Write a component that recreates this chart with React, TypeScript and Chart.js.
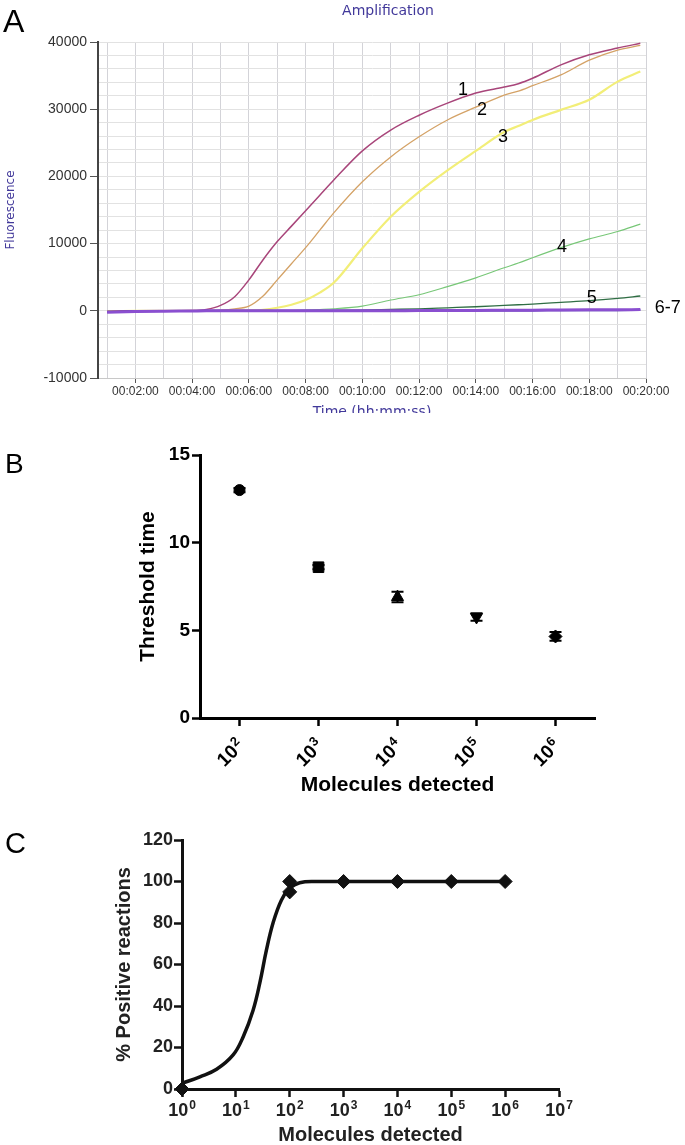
import React, { useEffect, useRef } from 'react';
import { Chart, registerables } from 'chart.js';

Chart.register(...registerables);

const SANS = "'Liberation Sans', Arial, Helvetica, sans-serif";
const DEJAVU = "'DejaVu Sans', Verdana, sans-serif";

// ---------------- Panel A : amplification curves ----------------
const A_TIME_MIN = [1, 2, 3, 4, 4.5, 5, 5.5, 6, 6.5, 7, 7.5, 8, 8.5, 9, 10, 11, 12, 13, 14, 15, 15.5, 16, 17, 18, 19, 19.8];
const A_CURVE_1 = [-100, 0, 0, 30, 200, 800, 2100, 4600, 7600, 10300, 12600, 14900, 17200, 19500, 23800, 26900, 29100, 30900, 32400, 33300, 33800, 34600, 36600, 38100, 39100, 39800];
const A_CURVE_2 = [-100, 0, 0, 0, 20, 100, 300, 700, 2200, 4600, 7000, 9400, 12000, 14600, 19200, 22900, 25900, 28400, 30300, 32100, 32700, 33500, 35100, 37300, 38800, 39500];
const A_CURVE_3 = [-100, 0, 0, 0, 0, 0, 30, 60, 150, 450, 900, 1600, 2700, 4200, 9300, 14000, 17700, 20900, 23800, 26600, 27500, 28400, 29900, 31400, 34100, 35600];
const A_CURVE_4 = [-100, 0, 0, 0, 0, 0, 0, 0, 0, 0, 50, 120, 200, 300, 700, 1600, 2400, 3600, 4900, 6400, 7100, 7900, 9400, 10700, 11800, 12900];
const A_CURVE_5 = [-100, 0, 0, 0, 0, 0, 0, 0, 0, 0, 0, 0, 20, 50, 100, 200, 300, 450, 600, 800, 900, 1000, 1250, 1500, 1850, 2200];
const A_CURVE_6 = [-200, -100, -50, -20, 0, 0, 0, 0, 0, 0, 0, 0, 0, 0, 0, 20, 30, 50, 60, 80, 90, 100, 120, 140, 160, 180];
const A_CURVE_7 = [-150, -80, -40, -20, -10, 0, 0, 0, 0, 0, 0, 0, 0, 0, 0, 0, 10, 20, 30, 40, 50, 60, 70, 80, 100, 120];
const A_SERIES = [A_CURVE_1, A_CURVE_2, A_CURVE_3, A_CURVE_4, A_CURVE_5, A_CURVE_6, A_CURVE_7];
const A_COLORS = ['#a8457a', '#d4a266', '#f2ee78', '#77c777', '#2f6e44', '#8a4fd0', '#3b2f9f'];
const A_WIDTHS = [1.5, 1.3, 2.2, 1.1, 1.3, 3, 2];
const A_X_TICKS = [1, 2, 3, 4, 5, 6, 7, 8, 9, 10, 11, 12, 13, 14, 15, 16, 17, 18, 19, 20];
const A_Y_TICKS = [-10000, -8000, -6000, -4000, -2000, 0, 2000, 4000, 6000, 8000, 10000, 12000, 14000, 16000, 18000, 20000, 22000, 24000, 26000, 28000, 30000, 32000, 34000, 36000, 38000, 40000];
const A_LABELS = ['1', '2', '3', '4', '5', '6-7'];
const A_LABEL_T = [13.55, 14.22, 14.96, 17.04, 18.09, 20.77];
const A_LABEL_F = [32900, 29900, 25900, 9500, 1950, 450];

// ---------------- Panel B : threshold time ----------------
const B_MOLECULES = [1e2, 1e3, 1e4, 1e5, 1e6];
const B_THRESHOLD = [13.0, 8.6, 6.9, 5.76, 4.65];
const B_ERROR = [0.12, 0.12, 0.3, 0.22, 0.25];
const B_SYMBOLS = ['circle', 'rect', 'triangle', 'triangle', 'rectRot'];
const B_ROTATION = [0, 0, 0, 180, 0];
const B_RADIUS = [5.5, 7.5, 7, 7, 6.5];
const B_X_TICKS = [1e2, 1e3, 1e4, 1e5, 1e6];
const B_Y_TICKS = [0, 5, 10, 15];

// ---------------- Panel C : % positive reactions ----------------
const C_POINT_X = [1, 100, 100, 1e3, 1e4, 1e5, 1e6];
const C_POINT_Y = [0, 100, 95, 100, 100, 100, 100];
const C_FIT_X = [1, 2.15, 4.39, 8.9, 13.7, 20.9, 27.8, 37, 49, 70, 100, 153, 309, 1e3, 1e4, 1e5, 1e6];
const C_FIT_Y = [2.7, 5.9, 9.5, 16.4, 25.2, 38, 51, 67, 80, 91, 96.7, 99.4, 100, 100, 100, 100, 100];
const C_X_TICKS = [1, 10, 100, 1e3, 1e4, 1e5, 1e6, 1e7];
const C_Y_TICKS = [0, 20, 40, 60, 80, 100, 120];

const exponentOf = (v: number) => String(Math.round(Math.log10(v)));

function panelLetter(letter: string, x: number, y: number, size: number) {
  return {
    id: 'letter' + letter,
    afterDraw(chart: any) {
      const ctx = chart.ctx;
      ctx.save();
      ctx.fillStyle = '#000';
      ctx.font = `${size}px ${SANS}`;
      ctx.textAlign = 'left';
      ctx.textBaseline = 'alphabetic';
      ctx.fillText(letter, x, y);
      ctx.restore();
    },
  };
}

// Draws "10" with a raised exponent under each tick of the x scale.
function powerLabels(id: string, ticks: number[], opts: { base: number; exp: number; color: string; rotate: boolean; gap: number; dx: number }) {
  return {
    id,
    afterDraw(chart: any) {
      const ctx = chart.ctx;
      const xs = chart.scales.x;
      const bottom = chart.chartArea.bottom;
      ctx.save();
      ctx.fillStyle = opts.color;
      ticks.forEach((v) => {
        const px = xs.getPixelForValue(v);
        const e = exponentOf(v);
        const baseFont = `bold ${opts.base}px ${SANS}`;
        const expFont = `bold ${opts.exp}px ${SANS}`;
        ctx.font = expFont;
        const ew = ctx.measureText(e).width;
        ctx.font = baseFont;
        const bw = ctx.measureText('10').width;
        ctx.textBaseline = 'alphabetic';
        if (opts.rotate) {
          ctx.save();
          ctx.translate(px + opts.dx, bottom + opts.gap);
          ctx.rotate(-Math.PI / 4);
          ctx.textAlign = 'right';
          ctx.font = expFont;
          ctx.fillText(e, 0, 11);
          ctx.font = baseFont;
          ctx.fillText('10', -ew - 1, 18);
          ctx.restore();
        } else {
          const total = bw + ew + 1;
          const x0 = px - total / 2 + opts.dx;
          ctx.textAlign = 'left';
          ctx.font = baseFont;
          ctx.fillText('10', x0, bottom + opts.gap);
          ctx.font = expFont;
          ctx.fillText(e, x0 + bw + 1, bottom + opts.gap - 7);
        }
      });
      ctx.restore();
    },
  };
}

function buildA(canvas: HTMLCanvasElement) {
  const textPlugin = {
    id: 'textA',
    afterDraw(chart: any) {
      const ctx = chart.ctx;
      const { x, y } = chart.scales;
      const area = chart.chartArea;
      ctx.save();
      ctx.fillStyle = '#41389a';
      ctx.font = `14px ${DEJAVU}`;
      ctx.textAlign = 'center';
      ctx.textBaseline = 'alphabetic';
      ctx.fillText('Amplification', 388, 15);
      ctx.fillText('Time (hh:mm:ss)', (area.left + area.right) / 2, 416);
      ctx.fillStyle = '#000';
      ctx.font = `18px ${SANS}`;
      ctx.textBaseline = 'middle';
      A_LABELS.forEach((lab, i) => {
        ctx.fillText(lab, x.getPixelForValue(A_LABEL_T[i]), y.getPixelForValue(A_LABEL_F[i]));
      });
      ctx.restore();
    },
  };
  const datasets = A_SERIES.map((vals, i) => ({
    data: A_TIME_MIN.map((t, j) => ({ x: t, y: vals[j] })),
    borderColor: A_COLORS[i],
    backgroundColor: A_COLORS[i],
    borderWidth: A_WIDTHS[i],
    pointRadius: 0,
    fill: false,
    cubicInterpolationMode: 'monotone',
    order: i >= 5 ? 0 : i + 1,
  }));
  return new Chart(canvas, {
    type: 'line',
    data: { datasets } as any,
    options: {
      animation: false,
      responsive: false,
      devicePixelRatio: 1,
      layout: { padding: { left: 0, top: 42, right: 39, bottom: 0 } },
      plugins: { legend: { display: false }, tooltip: { enabled: false } },
      scales: {
        x: {
          type: 'linear',
          min: 0.68,
          max: 20,
          afterBuildTicks: (s: any) => { s.ticks = A_X_TICKS.map((v) => ({ value: v })); },
          afterFit: (s: any) => { s.height = 35; },
          ticks: {
            autoSkip: false,
            minRotation: 0,
            maxRotation: 0,
            padding: 1,
            color: '#333',
            font: { family: SANS, size: 12 },
            callback: (v: any) => (v % 2 === 0 ? `00:${String(v).padStart(2, '0')}:00` : ''),
          },
          grid: {
            color: '#d3d3d8',
            lineWidth: 1,
            tickLength: 5,
            tickColor: (c: any) => (c.tick && c.tick.value % 2 === 0 ? '#555' : 'rgba(0,0,0,0)'),
          },
          border: { display: true, color: '#c8c8c8', width: 1 },
        },
        y: {
          min: -10000,
          max: 40000,
          afterBuildTicks: (s: any) => { s.ticks = A_Y_TICKS.map((v) => ({ value: v })); },
          afterFit: (s: any) => { s.width = 98; },
          ticks: {
            autoSkip: false,
            padding: 3,
            color: '#333',
            font: { family: SANS, size: 14 },
            callback: (v: any) => (v % 10000 === 0 ? String(v) : ''),
          },
          grid: {
            color: '#e2e2e2',
            lineWidth: 1,
            tickLength: 8,
            tickColor: (c: any) => (c.tick && c.tick.value % 10000 === 0 ? '#555' : 'rgba(0,0,0,0)'),
          },
          border: { display: true, color: '#444', width: 2 },
          title: {
            display: true,
            text: 'Fluorescence',
            color: '#41389a',
            font: { family: DEJAVU, size: 12 },
            padding: { top: 4, bottom: 0 },
          },
        },
      },
    } as any,
    plugins: [textPlugin, panelLetter('A', 3, 32, 32)],
  });
}

function buildB(canvas: HTMLCanvasElement) {
  const errorBars = {
    id: 'errorBars',
    afterDatasetsDraw(chart: any) {
      const { ctx } = chart;
      const { x, y } = chart.scales;
      ctx.save();
      ctx.strokeStyle = '#000';
      ctx.lineWidth = 2;
      B_MOLECULES.forEach((m, i) => {
        const px = x.getPixelForValue(m);
        const top = y.getPixelForValue(B_THRESHOLD[i] + B_ERROR[i]);
        const bot = y.getPixelForValue(B_THRESHOLD[i] - B_ERROR[i]);
        ctx.beginPath();
        ctx.moveTo(px, top);
        ctx.lineTo(px, bot);
        ctx.moveTo(px - 6, top);
        ctx.lineTo(px + 6, top);
        ctx.moveTo(px - 6, bot);
        ctx.lineTo(px + 6, bot);
        ctx.stroke();
      });
      ctx.restore();
    },
  };
  const axisFont = { family: SANS, size: 19, weight: 'bold' };
  const titleFont = { family: SANS, size: 21, weight: 'bold' };
  return new Chart(canvas, {
    type: 'scatter',
    data: {
      datasets: [
        {
          data: B_MOLECULES.map((m, i) => ({ x: m, y: B_THRESHOLD[i] })),
          pointStyle: B_SYMBOLS,
          pointRotation: B_ROTATION,
          pointRadius: B_RADIUS,
          backgroundColor: '#000',
          borderColor: '#000',
          borderWidth: 1,
          clip: false,
        },
      ],
    } as any,
    options: {
      animation: false,
      responsive: false,
      devicePixelRatio: 1,
      layout: { padding: { left: 0, top: 42, right: 90, bottom: 0 } },
      plugins: { legend: { display: false }, tooltip: { enabled: false } },
      scales: {
        x: {
          type: 'logarithmic',
          min: 31.62,
          max: 3162278,
          afterBuildTicks: (s: any) => { s.ticks = B_X_TICKS.map((v) => ({ value: v })); },
          afterFit: (s: any) => { s.height = 82; },
          ticks: { display: false, autoSkip: false },
          grid: { drawOnChartArea: false, tickLength: 8, tickWidth: 2.5, tickColor: '#000' },
          border: { display: true, color: '#000', width: 3 },
          title: { display: true, text: 'Molecules detected', color: '#000', font: titleFont, padding: { top: 0, bottom: 2 } },
        },
        y: {
          min: 0,
          max: 15,
          afterBuildTicks: (s: any) => { s.ticks = B_Y_TICKS.map((v) => ({ value: v })); },
          afterFit: (s: any) => { s.width = 200; },
          ticks: { padding: 2, color: '#000', font: axisFont },
          grid: { drawOnChartArea: false, tickLength: 8, tickWidth: 2.5, tickColor: '#000' },
          border: { display: true, color: '#000', width: 3 },
          title: { display: true, text: 'Threshold time', color: '#000', font: titleFont, padding: { top: 136, bottom: 0 } },
        },
      },
    } as any,
    plugins: [
      errorBars,
      powerLabels('powB', B_X_TICKS, { base: 19, exp: 13, color: '#000', rotate: true, gap: 16, dx: -7 }),
      panelLetter('B', 5, 60, 28),
    ],
  });
}

function buildC(canvas: HTMLCanvasElement) {
  const axisFont = { family: SANS, size: 18, weight: 'bold' };
  const titleFont = { family: SANS, size: 20, weight: 'bold' };
  return new Chart(canvas, {
    type: 'scatter',
    data: {
      datasets: [
        {
          type: 'line',
          data: C_FIT_X.map((v, i) => ({ x: v, y: C_FIT_Y[i] })),
          borderColor: '#111',
          borderWidth: 3.5,
          pointRadius: 0,
          fill: false,
          tension: 0.4,
          order: 1,
          clip: false,
        },
        {
          data: C_POINT_X.map((v, i) => ({ x: v, y: C_POINT_Y[i] })),
          pointStyle: 'rectRot',
          pointRadius: 7,
          backgroundColor: '#111',
          borderColor: '#111',
          borderWidth: 1,
          order: 0,
          clip: false,
        },
      ],
    } as any,
    options: {
      animation: false,
      responsive: false,
      devicePixelRatio: 1,
      layout: { padding: { left: 0, top: 40, right: 126, bottom: 0 } },
      plugins: { legend: { display: false }, tooltip: { enabled: false } },
      scales: {
        x: {
          type: 'logarithmic',
          min: 1,
          max: 1e7,
          afterBuildTicks: (s: any) => { s.ticks = C_X_TICKS.map((v) => ({ value: v })); },
          afterFit: (s: any) => { s.height = 56; },
          ticks: { display: false, autoSkip: false },
          grid: { drawOnChartArea: false, tickLength: 8, tickWidth: 2.5, tickColor: '#111' },
          border: { display: true, color: '#111', width: 3 },
          title: { display: true, text: 'Molecules detected', color: '#222', font: titleFont, padding: { top: 0, bottom: -2 } },
        },
        y: {
          min: 0,
          max: 120,
          afterBuildTicks: (s: any) => { s.ticks = C_Y_TICKS.map((v) => ({ value: v })); },
          afterFit: (s: any) => { s.width = 182; },
          ticks: { padding: 1, color: '#222', font: axisFont },
          grid: { drawOnChartArea: false, tickLength: 8, tickWidth: 2.5, tickColor: '#111' },
          border: { display: true, color: '#111', width: 3 },
          title: { display: true, text: '% Positive reactions', color: '#222', font: titleFont, padding: { top: 112, bottom: 0 } },
        },
      },
    } as any,
    plugins: [
      powerLabels('powC', C_X_TICKS, { base: 18, exp: 12, color: '#222', rotate: false, gap: 27, dx: 0 }),
      panelLetter('C', 5, 53, 29),
    ],
  });
}

export default function App() {
  const refA = useRef<HTMLCanvasElement>(null);
  const refB = useRef<HTMLCanvasElement>(null);
  const refC = useRef<HTMLCanvasElement>(null);
  useEffect(() => {
    const charts = [buildA(refA.current!), buildB(refB.current!), buildC(refC.current!)];
    return () => charts.forEach((c) => c.destroy());
  }, []);
  return (
    <div style={{ position: 'absolute', left: 0, top: 0, width: 685, height: 1145, background: '#fff', overflow: 'hidden' }}>
      <canvas ref={refA} width={685} height={413} style={{ position: 'absolute', left: 0, top: 0 }} />
      <canvas ref={refB} width={685} height={387} style={{ position: 'absolute', left: 0, top: 413 }} />
      <canvas ref={refC} width={685} height={345} style={{ position: 'absolute', left: 0, top: 800 }} />
    </div>
  );
}
